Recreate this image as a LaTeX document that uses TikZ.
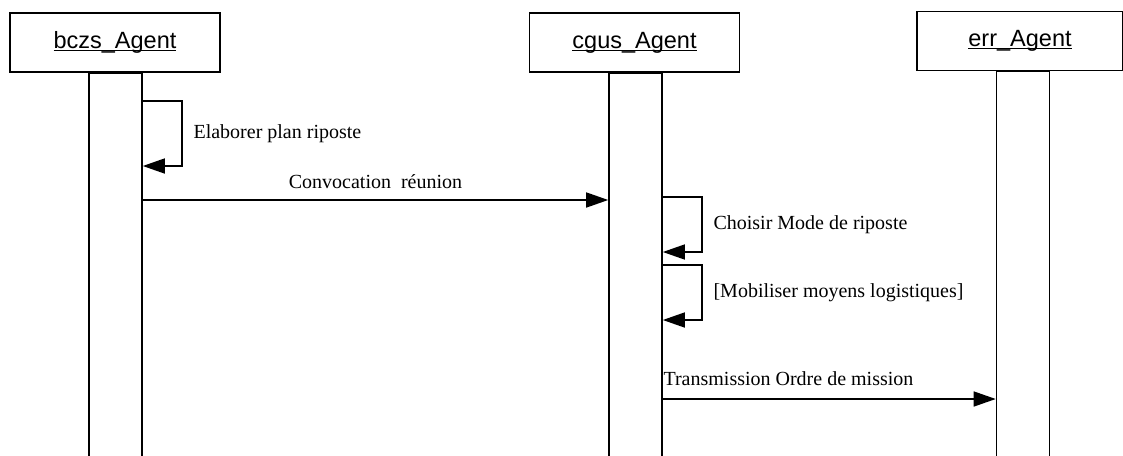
\documentclass[tikz,border=0pt]{standalone}
\usepackage{fontspec}
\setmainfont{Liberation Serif}
\setsansfont{Liberation Sans}
\usetikzlibrary{arrows.meta,positioning}

% underline close to the baseline, as in the agent boxes
\newcommand{\agentlabel}[1]{\setbox0\hbox{#1}\rlap{\rule[-2.8pt]{\wd0}{1.2pt}}\box0}

\begin{document}
\begin{tikzpicture}[x=1pt,y=-1pt,
    >={Triangle[length=22pt,width=15pt]},
    agent/.style={draw,line width=1.6pt,minimum width=210pt,minimum height=59pt,
                  inner sep=0pt,font=\fontsize{23.5}{28}\sffamily},
    bar/.style={draw,line width=1.6pt,minimum width=53pt,minimum height=420pt,
                inner sep=0pt,anchor=north},
    msg/.style={->,line width=1.5pt},
    lbl/.style={inner sep=0pt,font=\fontsize{20}{24}\selectfont}]
  \clip (0,0) rectangle (1123,455);
  % agents and their lifelines
  \node[agent] (bczs) at (115,42.5) {\agentlabel{bczs\_Agent}};
  \node[agent] (cgus) at (634.5,42.5) {\agentlabel{cgus\_Agent}};
  \node[agent,minimum width=206pt] (err) at (1020,41) {\agentlabel{err\_Agent}};
  \node[bar] (bczsBar) at (115.5,72) {};
  \node[bar] (cgusBar) at (635.5,72) {};
  \node[bar] (errBar) at (1023,70) {};
  % messages
  \draw[msg] ([yshift=-29pt]bczsBar.north east) -- ++(39,0)
    -- node[lbl,right=11pt]{Elaborer plan riposte} ++(0,65) -- ++(-39,0);
  \draw[msg] ([yshift=-128pt]bczsBar.north east) coordinate (m1)
    -- node[lbl,above=11pt]{Convocation\ \ réunion} (m1 -| cgusBar.west);
  \draw[msg] ([yshift=-125pt]cgusBar.north east) -- ++(39,0)
    -- node[lbl,right=11pt]{Choisir Mode de riposte} ++(0,55) -- ++(-39,0);
  \draw[msg] ([yshift=-193pt]cgusBar.north east) -- ++(39,0)
    -- node[lbl,right=11pt]{[Mobiliser moyens logistiques]} ++(0,55) -- ++(-39,0);
  \draw[msg] ([yshift=-327pt]cgusBar.north east) coordinate (m4)
    node[lbl,anchor=south west,yshift=13pt]{Transmission Ordre de mission}
    -- (m4 -| errBar.west);
\end{tikzpicture}
\end{document}
